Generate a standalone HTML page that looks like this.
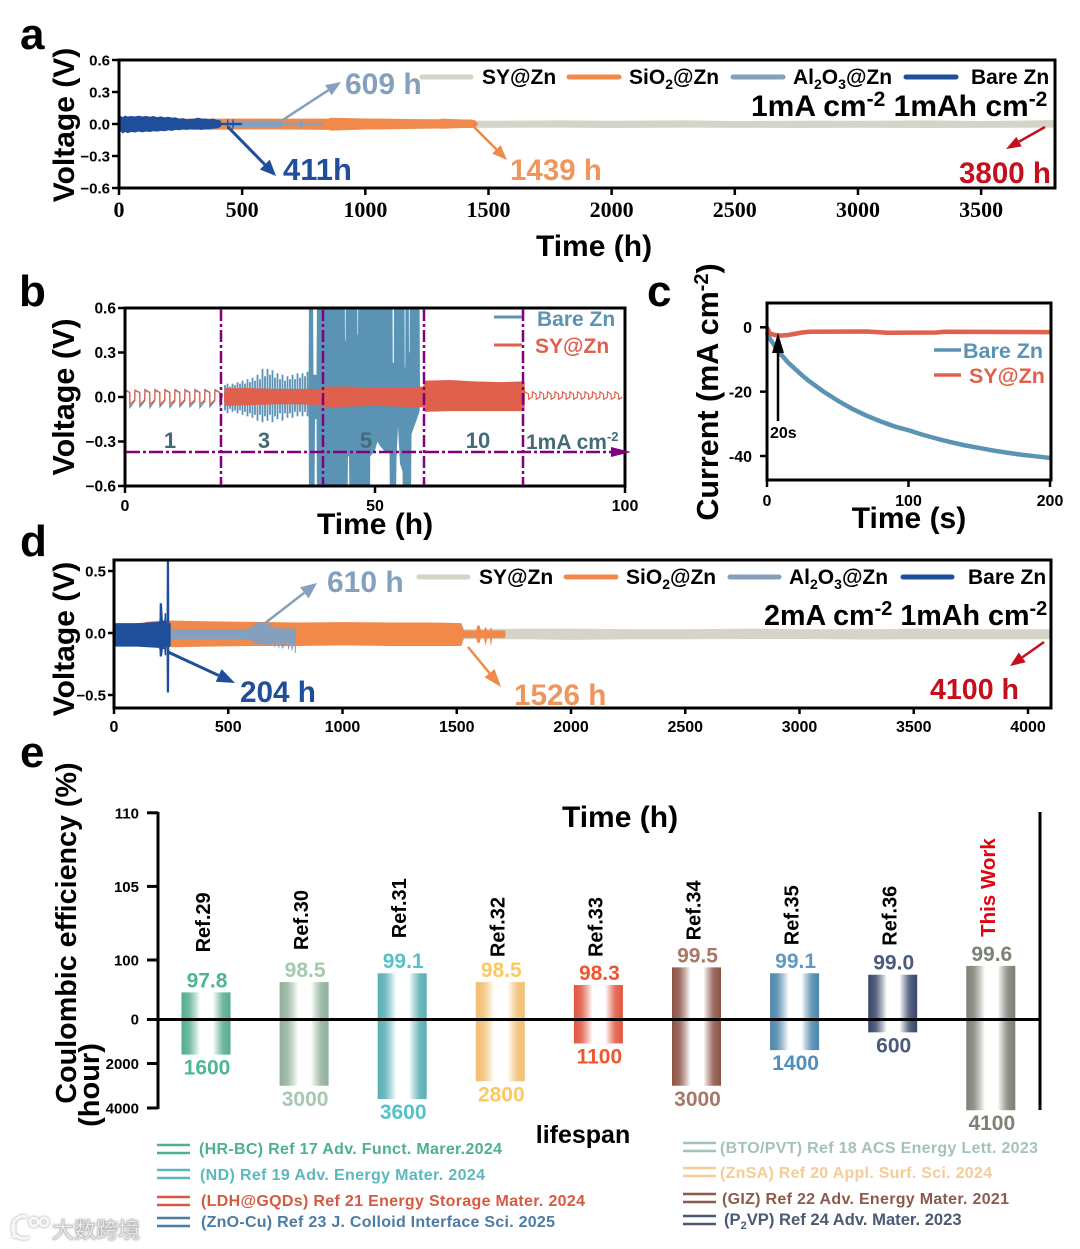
<!DOCTYPE html>
<html lang="en">
<head>
<meta charset="utf-8">
<title>Zinc anode cycling performance</title>
<style>
html,body{margin:0;padding:0;background:#fff;}
svg{display:block;font-family:"Liberation Sans","Noto Sans CJK SC",sans-serif;font-weight:bold;}
.ser{font-family:"Liberation Serif",serif;}
.lg{font-size:21px;fill:#000;}
</style>
</head>
<body>
<svg id="fig" xmlns="http://www.w3.org/2000/svg" width="1080" height="1249" viewBox="0 0 1080 1249">
<defs id="defs">
  <clipPath id="clipB"><rect x="125" y="308" width="500" height="178"/></clipPath>
  <clipPath id="clipD"><rect x="114" y="560" width="937" height="148"/></clipPath>
</defs>
<rect width="1080" height="1249" fill="#fff"/>

<g id="panelA"></g>
<g id="panelB"></g>
<g id="panelC"></g>
<g id="panelD"></g>
<g id="panelE"></g>

<!-- panel letters -->
<text x="20" y="49" font-size="44">a</text>
<text x="19" y="306" font-size="44">b</text>
<text x="647" y="306" font-size="44">c</text>
<text x="20" y="556" font-size="44">d</text>
<text x="20" y="767" font-size="44">e</text>

<!-- panel a static text -->
<text transform="translate(74,125) rotate(-90)" text-anchor="middle" font-size="30">Voltage (V)</text>
<text x="594" y="256" text-anchor="middle" font-size="30">Time (h)</text>
<g>
  <line x1="422" y1="77" x2="471" y2="77" stroke="#d5d4c6" stroke-width="5" stroke-linecap="round"/>
  <text x="482" y="84" class="lg">SY@Zn</text>
  <line x1="569" y1="77" x2="619" y2="77" stroke="#f0894a" stroke-width="5" stroke-linecap="round"/>
  <text x="629" y="84" class="lg">SiO<tspan dy="5" font-size="14">2</tspan><tspan dy="-5">@Zn</tspan></text>
  <line x1="733" y1="77" x2="783" y2="77" stroke="#84a0bd" stroke-width="5" stroke-linecap="round"/>
  <text x="793" y="84" class="lg">Al<tspan dy="5" font-size="14">2</tspan><tspan dy="-5">O</tspan><tspan dy="5" font-size="14">3</tspan><tspan dy="-5">@Zn</tspan></text>
  <line x1="906" y1="77" x2="956" y2="77" stroke="#1f4e9a" stroke-width="5" stroke-linecap="round"/>
  <text x="971" y="84" class="lg">Bare Zn</text>
</g>
<text x="751" y="116" font-size="30">1mA cm<tspan dy="-10" font-size="21">-2</tspan><tspan dy="10"> 1mAh cm</tspan><tspan dy="-10" font-size="21">-2</tspan></text>
<text x="345" y="94" font-size="30" fill="#84a0bd">609 h</text>
<text x="283" y="180" font-size="31" fill="#1f4e9a">411h</text>
<text x="510" y="180" font-size="29.5" fill="#f0965c">1439 h</text>
<text x="959" y="183" font-size="29.5" fill="#c4101c">3800 h</text>

<!-- panel b static text -->
<text transform="translate(74,397) rotate(-90)" text-anchor="middle" font-size="30.5">Voltage (V)</text>
<text x="375" y="534" text-anchor="middle" font-size="30">Time (h)</text>
<g>
  <line x1="494" y1="317" x2="522" y2="317" stroke="#5b93b5" stroke-width="3"/>
  <text x="537" y="326" font-size="21" fill="#5b93b5">Bare Zn</text>
  <line x1="494" y1="345" x2="522" y2="345" stroke="#e0604e" stroke-width="3"/>
  <text x="535" y="353" font-size="21" fill="#e0604e">SY@Zn</text>
</g>
<g font-size="22" fill="#456a7a" text-anchor="middle">
  <text x="170" y="448">1</text>
  <text x="264" y="448">3</text>
  <text x="366" y="448">5</text>
  <text x="478" y="448">10</text>
  <text x="526" y="449" text-anchor="start" font-size="21">1mA cm<tspan dy="-8" font-size="13">-2</tspan></text>
</g>

<!-- panel c static text -->
<text transform="translate(718,392) rotate(-90)" text-anchor="middle" font-size="30.5">Current (mA cm<tspan dy="-10" font-size="20">-2</tspan><tspan dy="10">)</tspan></text>
<text x="909" y="528" text-anchor="middle" font-size="30">Time (s)</text>
<g>
  <line x1="934" y1="350" x2="961" y2="350" stroke="#5b93b5" stroke-width="3.5"/>
  <text x="963" y="358" font-size="21.5" fill="#5b93b5">Bare Zn</text>
  <line x1="934" y1="375" x2="961" y2="375" stroke="#e0604e" stroke-width="3.5"/>
  <text x="969" y="383" font-size="21.5" fill="#e0604e">SY@Zn</text>
</g>
<text x="770" y="438" font-size="16">20s</text>

<!-- panel d static text -->
<text transform="translate(74,639) rotate(-90)" text-anchor="middle" font-size="30">Voltage (V)</text>
<g>
  <line x1="419" y1="577" x2="468" y2="577" stroke="#d5d4c6" stroke-width="5" stroke-linecap="round"/>
  <text x="479" y="584" class="lg">SY@Zn</text>
  <line x1="566" y1="577" x2="616" y2="577" stroke="#f0894a" stroke-width="5" stroke-linecap="round"/>
  <text x="626" y="584" class="lg">SiO<tspan dy="5" font-size="14">2</tspan><tspan dy="-5">@Zn</tspan></text>
  <line x1="730" y1="577" x2="779" y2="577" stroke="#84a0bd" stroke-width="5" stroke-linecap="round"/>
  <text x="789" y="584" class="lg">Al<tspan dy="5" font-size="14">2</tspan><tspan dy="-5">O</tspan><tspan dy="5" font-size="14">3</tspan><tspan dy="-5">@Zn</tspan></text>
  <line x1="903" y1="577" x2="952" y2="577" stroke="#1f4e9a" stroke-width="5" stroke-linecap="round"/>
  <text x="968" y="584" class="lg">Bare Zn</text>
</g>
<text x="764" y="625" font-size="28.7">2mA cm<tspan dy="-10" font-size="20">-2</tspan><tspan dy="10"> 1mAh cm</tspan><tspan dy="-10" font-size="20">-2</tspan></text>
<text x="327" y="592" font-size="30" fill="#84a0bd">610 h</text>
<text x="240" y="702" font-size="29.7" fill="#1f4e9a">204 h</text>
<text x="514" y="705" font-size="29.7" fill="#f0965c">1526 h</text>
<text x="930" y="699" font-size="28.6" fill="#c4101c">4100 h</text>

<!-- panel e static text -->
<text x="620" y="827" text-anchor="middle" font-size="30">Time (h)</text>
<text x="583" y="1143" text-anchor="middle" font-size="25">lifespan</text>
<text transform="translate(76,933) rotate(-90)" text-anchor="middle" font-size="28.7">Coulombic efficiency (%)</text>
<text transform="translate(99,1085) rotate(-90)" text-anchor="middle" font-size="29">(hour)</text>

<!-- watermark -->
<g style="filter:drop-shadow(0 0 1.2px #9a9a9a)">
  <g fill="none" stroke="#f6f6f6" stroke-width="3">
    <path d="M14 1220 L14 1238 M27 1217 A11 11 0 1 0 29 1237"/>
    <circle cx="34" cy="1222" r="4"/>
    <circle cx="44" cy="1222" r="4"/>
  </g>
  <text x="52" y="1238" font-size="22" fill="#f4f4f4" stroke="#c4c4c4" stroke-width="0.6" style="font-family:'Liberation Sans','Noto Sans CJK SC',sans-serif;font-weight:400">大数跨境</text>
</g>
</svg>

<script>
/* ---------- Panel a data (time h, envelope voltage V) ---------- */
const aXTicks = [0, 500, 1000, 1500, 2000, 2500, 3000, 3500];
const aYTicks = [0.6, 0.3, 0, -0.3, -0.6];
const aYTickLabels = ['0.6', '0.3', '0.0', '\u22120.3', '\u22120.6'];
const aSyTime = [0, 1500, 1800, 2000, 2300, 2500, 2800, 3000, 3300, 3500, 3800];
const aSyUpper = [0.028, 0.03, 0.034, 0.03, 0.034, 0.028, 0.032, 0.03, 0.034, 0.028, 0.036];
const aSyLower = [-0.035, -0.036, -0.034, -0.038, -0.034, -0.036, -0.038, -0.035, -0.037, -0.036, -0.034];
const aOrangeTime = [0, 200, 300, 600, 850, 860, 1000, 1200, 1300, 1310, 1400, 1430, 1445, 1456];
const aOrangeUpper = [0.04, 0.05, 0.05, 0.05, 0.05, 0.058, 0.052, 0.046, 0.044, 0.05, 0.042, 0.042, 0.035, 0.01];
const aOrangeLower = [-0.04, -0.05, -0.055, -0.05, -0.055, -0.062, -0.052, -0.046, -0.042, -0.045, -0.038, -0.038, -0.03, -0.01];
const aAlTime = [420, 456, 640, 660, 662, 735, 736, 745, 746, 826];
const aAlUpper = [0.012, 0.03, 0.032, 0.03, 0.012, 0.012, 0.035, 0.035, 0.012, 0.012];
const aAlLower = [-0.012, -0.03, -0.034, -0.03, -0.012, -0.012, -0.04, -0.04, -0.012, -0.012];
const aBareTime = [0,8,15,25,35,50,65,80,95,110,125,140,155,170,185,200,215,230,245,260,275,290,305,320,335,350,365,380,395,411,416,438,439,443,444,460,461,465,466,500];
const aBareUpper = [0.06,0.075,0.065,0.08,0.07,0.075,0.07,0.078,0.07,0.075,0.068,0.075,0.065,0.072,0.062,0.068,0.06,0.062,0.05,0.055,0.045,0.048,0.05,0.06,0.05,0.052,0.045,0.052,0.04,0.035,0.01,0.01,0.045,0.045,0.01,0.01,0.045,0.045,0.01,0.01];
const aBareLower = [-0.08,-0.07,-0.09,-0.075,-0.085,-0.075,-0.08,-0.07,-0.078,-0.07,-0.075,-0.068,-0.072,-0.065,-0.068,-0.06,-0.065,-0.055,-0.058,-0.05,-0.055,-0.048,-0.052,-0.05,-0.055,-0.048,-0.05,-0.045,-0.042,-0.03,-0.01,-0.01,-0.05,-0.05,-0.01,-0.01,-0.05,-0.05,-0.01,-0.01];

/* ---------- Panel b data ---------- */
const bXTicks = [0, 50, 100];
const bYTicks = [0.6, 0.3, 0, -0.3, -0.6];
const bYTickLabels = ['0.6', '0.3', '0.0', '\u22120.3', '\u22120.6'];
const bDividers = [19.2, 39.6, 59.8, 79.6];
const bSlowTime = [0,0.95,1,1.95,2,2.95,3,3.95,4,4.95,5,5.95,6,6.95,7,7.95,8,8.95,9,9.95,10,10.95,11,11.95,12,12.95,13,13.95,14,14.95,15,15.95,16,16.95,17,17.95,18,18.95,19,19.5];
const bBareSlowVolt = [0.05,0.03,-0.07,-0.025,0.045,0.03,-0.065,-0.025,0.05,0.03,-0.07,-0.025,0.05,0.03,-0.065,-0.025,0.05,0.03,-0.07,-0.03,0.05,0.03,-0.065,-0.025,0.05,0.03,-0.065,-0.03,0.05,0.03,-0.07,-0.03,0.05,0.03,-0.065,-0.025,0.05,0.03,-0.07,0.02];
const bSySlowVolt = [0.045,0.03,-0.05,-0.02,0.045,0.03,-0.05,-0.02,0.045,0.03,-0.05,-0.02,0.045,0.03,-0.05,-0.02,0.045,0.03,-0.05,-0.02,0.045,0.03,-0.05,-0.02,0.045,0.03,-0.05,-0.02,0.045,0.03,-0.05,-0.02,0.045,0.03,-0.05,-0.02,0.045,0.03,-0.05,0.02];
const bRampTime = [20,20.5,21,21.5,22,22.5,23,23.5,24,24.5,25,25.5,26,26.5,27,27.5,28,28.5,29,29.5,30,30.5,31,31.5,32,32.5,33,33.5,34,34.5,35,35.5,36,36.5,37];
const bRampUpper = [0.08,0.09,0.07,0.09,0.08,0.1,0.09,0.11,0.09,0.12,0.1,0.13,0.11,0.15,0.12,0.19,0.14,0.19,0.15,0.18,0.13,0.16,0.12,0.15,0.11,0.14,0.12,0.15,0.12,0.16,0.13,0.16,0.14,0.17,0.15];
const bRampLower = [-0.09,-0.11,-0.08,-0.1,-0.09,-0.11,-0.09,-0.12,-0.1,-0.13,-0.11,-0.14,-0.12,-0.16,-0.12,-0.17,-0.13,-0.16,-0.12,-0.17,-0.13,-0.15,-0.11,-0.16,-0.11,-0.14,-0.11,-0.14,-0.1,-0.13,-0.1,-0.13,-0.1,-0.13,-0.12];
const bBurstUpTime = [36.7,36.8,37.6,37.7,38.3,38.4,39.1,39.2,43.95,44,44.1,44.15,46.45,46.5,46.6,46.65,53.5,53.55,53.75,53.8,55.9,55.95,56.05,56.1,56.75,56.8,56.9,56.95,58.9,59];
const bBurstUpper = [0,0.7,0.7,0.15,0.15,0.7,0.7,0.7,0.7,0.38,0.38,0.7,0.7,0.42,0.42,0.7,0.7,0.23,0.23,0.7,0.7,0.2,0.2,0.7,0.7,0.3,0.3,0.7,0.7,0.06];
const bBurstLowTime = [36.7,36.8,37.9,38,38.3,38.4,39.1,39.2,44.5,44.6,44.8,44.9,49,49.05,50,50.5,51,52,52.9,53,54.2,54.3,54.6,55,55.5,55.6,57.2,57.3,58.9,59];
const bBurstLower = [0,-0.7,-0.7,-0.15,-0.15,-0.7,-0.7,-0.7,-0.7,-0.4,-0.4,-0.7,-0.7,-0.4,-0.36,-0.3,-0.33,-0.37,-0.38,-0.7,-0.7,-0.42,-0.2,-0.45,-0.5,-0.7,-0.7,-0.25,-0.1,-0.05];
const bSyBandTime = [19.8,20,25,30,35,39.5,39.7,45,50,55,59.4,59.6,60,65,70,75,79.9,80];
const bSyBandUpper = [0.02,0.06,0.06,0.055,0.055,0.055,0.07,0.07,0.065,0.065,0.07,0.07,0.11,0.115,0.105,0.1,0.105,0.03];
const bSyBandLower = [-0.02,-0.06,-0.055,-0.05,-0.05,-0.055,-0.07,-0.065,-0.06,-0.065,-0.07,-0.07,-0.1,-0.095,-0.095,-0.095,-0.095,-0.02];
const bEndTime = [80,80.7,80.75,81.45,81.5,82.2,82.25,82.95,83,83.7,83.75,84.45,84.5,85.2,85.25,85.95,86,86.7,86.75,87.45,87.5,88.2,88.25,88.95,89,89.7,89.75,90.45,90.5,91.2,91.25,91.95,92,92.7,92.75,93.45,93.5,94.2,94.25,94.95,95,95.7,95.75,96.45,96.5,97.2,97.25,97.95,98,98.7,98.75,99.45];
const bEndVolt = [0.035,0.02,-0.015,-0.002,0.035,0.02,-0.015,-0.002,0.035,0.02,-0.015,-0.002,0.035,0.02,-0.015,-0.002,0.035,0.02,-0.015,-0.002,0.035,0.02,-0.015,-0.002,0.035,0.02,-0.015,-0.002,0.035,0.02,-0.015,-0.002,0.035,0.02,-0.015,-0.002,0.035,0.02,-0.015,-0.002,0.035,0.02,-0.015,-0.002,0.035,0.02,-0.015,-0.002,0.035,0.02,-0.015,-0.002];

/* ---------- Panel c data ---------- */
const cXTicks = [0, 100, 200];
const cYTicks = [0, -20, -40];
const cBareTime = [0,2,5,10,15,20,25,30,40,50,60,70,80,90,100,110,120,130,140,150,160,170,180,190,200];
const cBareCurrent = [-1.5,-3.5,-5.5,-8.5,-11,-13,-15,-16.8,-20,-22.8,-25.3,-27.4,-29.2,-30.8,-32,-33.4,-34.6,-35.7,-36.7,-37.5,-38.3,-39,-39.6,-40.1,-40.6];
const cSyTime = [0, 2, 6, 10, 15, 20, 25, 30, 70, 85, 120, 125, 200];
const cSyCurrent = [0, -2, -2.4, -2.6, -2.4, -2, -1.6, -1.4, -1.3, -1.7, -1.6, -1.4, -1.5];

/* ---------- Panel d data ---------- */
const dXTicks = [0, 500, 1000, 1500, 2000, 2500, 3000, 3500, 4000];
const dYTicks = [0.5, 0, -0.5];
const dYTickLabels = ['0.5', '0.0', '\u22120.5'];
const dSyTime = [0, 1500, 1800, 2000, 2300, 2500, 2800, 3000, 3300, 3500, 3800, 4100];
const dSyUpper = [0.03, 0.03, 0.035, 0.035, 0.03, 0.03, 0.035, 0.03, 0.03, 0.035, 0.03, 0.03];
const dSyLower = [-0.05, -0.05, -0.05, -0.055, -0.05, -0.05, -0.048, -0.048, -0.052, -0.05, -0.05, -0.05];
const dOrangeTime = [0, 100, 140, 200, 260, 400, 600, 800, 1000, 1200, 1400, 1520, 1532, 1585, 1590, 1600, 1606, 1620, 1625, 1635, 1645, 1650, 1655, 1712, 1714];
const dOrangeUpper = [0.03, 0.06, 0.09, 0.1, 0.1, 0.095, 0.09, 0.085, 0.088, 0.085, 0.085, 0.08, 0.02, 0.02, 0.06, 0.06, 0.02, 0.02, 0.05, 0.02, 0.02, 0.05, 0.02, 0.02, 0];
const dOrangeLower = [-0.05, -0.09, -0.1, -0.11, -0.115, -0.11, -0.105, -0.105, -0.1, -0.105, -0.105, -0.105, -0.04, -0.04, -0.08, -0.08, -0.04, -0.04, -0.1, -0.04, -0.04, -0.11, -0.04, -0.04, 0];
const dAlTime = [248, 400, 560, 600, 627, 660, 690, 700, 702, 718, 720, 733, 735, 760, 762, 775, 777, 790, 792, 796];
const dAlUpper = [0.03, 0.03, 0.03, 0.04, 0.09, 0.08, 0.06, 0.04, 0.04, 0.03, 0.05, 0.03, 0.04, 0.03, 0.05, 0.03, 0.04, 0.03, 0.04, 0.04];
const dAlLower = [-0.05, -0.05, -0.05, -0.06, -0.09, -0.09, -0.1, -0.06, -0.12, -0.06, -0.13, -0.07, -0.13, -0.07, -0.14, -0.08, -0.15, -0.08, -0.16, -0.16];
const dBareTime = [0, 100, 195, 199, 200, 210, 214, 220, 222, 228, 229, 230, 231, 241, 242, 248];
const dBareUpper = [0.08, 0.08, 0.09, 0.1, 0.24, 0.24, 0.1, 0.1, 0.16, 0.16, 0.08, 0.08, 0.62, 0.62, 0.08, 0.08];
const dBareLower = [-0.11, -0.11, -0.12, -0.13, -0.19, -0.19, -0.13, -0.13, -0.18, -0.18, -0.11, -0.11, -0.48, -0.48, -0.11, -0.11];

/* ---------- Panel e data ---------- */
const eRefs = ['Ref.29', 'Ref.30', 'Ref.31', 'Ref.32', 'Ref.33', 'Ref.34', 'Ref.35', 'Ref.36', 'This Work'];
const eEfficiency = [97.8, 98.5, 99.1, 98.5, 98.3, 99.5, 99.1, 99.0, 99.6];
const eLifespan = [1600, 3000, 3600, 2800, 1100, 3000, 1400, 600, 4100];
const eUpperTicks = [100, 105, 110];
const eLowerTicks = [2000, 4000];

const eBarColors = ['#55ad8e', '#8fb09a', '#58afb5', '#f1bf70', '#e0563f', '#8b5344', '#4d86ad', '#37466a', '#7b8074'];
const eTopColors = ['#4fb596', '#a3c9ae', '#55c1c8', '#fbc863', '#f0552d', '#a97767', '#5f98c2', '#4a5a7c', '#7b8373'];
const eBottomColors = ['#4fb596', '#a7c8b0', '#55c1c8', '#fbc863', '#f0552d', '#a97767', '#4f8ebe', '#4a5a7c', '#7b8373'];
const eRefGaps = [40, 32, 35, 25, 28, 27, 28, 29, 29];

const eLegendLeft = ['(HR-BC) Ref 17 Adv. Funct. Marer.2024', '(ND) Ref 19 Adv. Energy Mater. 2024', '(LDH@GQDs) Ref 21 Energy Storage Mater. 2024', '(ZnO-Cu) Ref 23 J. Colloid Interface Sci. 2025'];
const eLegendRight = ['(BTO/PVT) Ref 18 ACS Energy Lett. 2023', '(ZnSA) Ref 20 Appl. Surf. Sci. 2024', '(GIZ) Ref 22 Adv. Energy Mater. 2021'];

/* ---------- helpers ---------- */
const NS = 'http://www.w3.org/2000/svg';
const COL = {sy:'#d5d4c6', orange:'#f0894a', al:'#84a0bd', bare:'#1f4e9a', bBlue:'#5b93b5', bRed:'#e0604e', purple:'#800080', red:'#c4101c'};

function mk(parent, tag, attrs, txt) {
  const n = document.createElementNS(NS, tag);
  for (const k in attrs) n.setAttribute(k, attrs[k]);
  if (txt !== undefined) n.textContent = txt;
  parent.appendChild(n);
  return n;
}

function bandPath(ts, ups, lows, xf, yf) {
  let d = '';
  for (let i = 0; i < ts.length; i++) d += (i ? 'L' : 'M') + xf(ts[i]).toFixed(2) + ' ' + yf(ups[i]).toFixed(2);
  for (let i = ts.length - 1; i >= 0; i--) d += 'L' + xf(ts[i]).toFixed(2) + ' ' + yf(lows[i]).toFixed(2);
  return d + 'Z';
}

function linePath(ts, vs, xf, yf) {
  let d = '';
  for (let i = 0; i < ts.length; i++) d += (i ? 'L' : 'M') + xf(ts[i]).toFixed(2) + ' ' + yf(vs[i]).toFixed(2);
  return d;
}

function drawFrame(g, x, y, w, h) {
  const f = mk(g, 'rect', {x: x, y: y, width: w, height: h, fill: 'none', stroke: '#000', 'stroke-width': 3});
  
  
}

function drawTicks(g, xVals, xLabels, xf, yBase, xLabelY, xFont, yVals, yLabels, yf, xBase, yFont, tickLen, xClass, yGap) {
  const gap = yGap === undefined ? 2 : yGap;
  xVals.forEach(function (v, i) {
    const t = mk(g, 'line', {x1: xf(v), x2: xf(v), y1: yBase, y2: yBase + tickLen, stroke: '#000', 'stroke-width': 2.5});
    
    
    const a = {x: xf(v), y: xLabelY, 'text-anchor': 'middle', 'font-size': xFont};
    if (xClass) a['class'] = xClass;
    const l = mk(g, 'text', a, xLabels[i]);
    
    
  });
  yVals.forEach(function (v, i) {
    const t = mk(g, 'line', {x1: xBase - tickLen, x2: xBase, y1: yf(v), y2: yf(v), stroke: '#000', 'stroke-width': 2.5});
    
    
    const l = mk(g, 'text', {x: xBase - tickLen - gap, y: yf(v) + yFont * 0.36, 'text-anchor': 'end', 'font-size': yFont}, yLabels[i]);
    
    
  });
}

function drawArrow(g, x1, y1, x2, y2, color, w, hl, hw) {
  const dx = x2 - x1, dy = y2 - y1, L = Math.hypot(dx, dy), ux = dx / L, uy = dy / L;
  const bx = x2 - ux * hl, by = y2 - uy * hl;
  const s = mk(g, 'line', {x1: x1, y1: y1, x2: bx, y2: by, stroke: color, 'stroke-width': w});
  
  
  const pts = [x2 + ',' + y2, (bx - uy * hw) + ',' + (by + ux * hw), (bx + uy * hw) + ',' + (by - ux * hw)].join(' ');
  const h = mk(g, 'polygon', {points: pts, fill: color});
  
  
}

/* ---------- Panel a ---------- */
(function () {
  const g = document.getElementById('panelA');
  const x = function (t) { return 119 + t * (1055 - 119) / 3800; };
  const y = function (v) { return 124 - v * (128 / 1.2); };
  const s1 = mk(g, 'path', {d: bandPath(aSyTime, aSyUpper, aSyLower, x, y), fill: COL.sy});
  
  
  const s2 = mk(g, 'path', {d: bandPath(aOrangeTime, aOrangeUpper, aOrangeLower, x, y), fill: COL.orange});
  
  
  const s3 = mk(g, 'path', {d: bandPath(aAlTime, aAlUpper, aAlLower, x, y), fill: COL.al});
  
  
  const s4 = mk(g, 'path', {d: bandPath(aBareTime, aBareUpper, aBareLower, x, y), fill: COL.bare});
  
  
  drawFrame(g, 119, 60, 936, 128);
  drawTicks(g, aXTicks, aXTicks.map(String), x, 189, 217, 22, aYTicks, aYTickLabels, y, 118, 15, 6, 'ser');
  drawArrow(g, 278, 123, 341, 82, COL.al, 2.5, 15, 6);
  drawArrow(g, 228, 127, 276, 176, COL.bare, 3, 16, 7);
  drawArrow(g, 473, 126, 507, 160, COL.orange, 2.5, 15, 6);
  drawArrow(g, 1045, 127, 1006, 149, COL.red, 2.5, 15, 5.5);
})();

/* ---------- Panel b ---------- */
(function () {
  const g = document.getElementById('panelB');
  const x = function (t) { return 125 + t * 5; };
  const y = function (v) { return 397 - v * (178 / 1.2); };
  const clip = mk(g, 'g', {'clip-path': 'url(#clipB)'});
  
  
  const l1 = mk(clip, 'path', {d: linePath(bSlowTime, bBareSlowVolt, x, y), fill: 'none', stroke: COL.bBlue, 'stroke-width': 1.3});
  
  
  bRampTime.forEach(function (t, i) {
    const r = mk(clip, 'line', {x1: x(t), x2: x(t), y1: y(bRampUpper[i]), y2: y(bRampLower[i]), stroke: COL.bBlue, 'stroke-width': 1.8});
    
    
  });
  const zerosA = bBurstUpTime.map(function () { return 0; });
  const b1 = mk(clip, 'path', {d: bandPath(bBurstUpTime, bBurstUpper, zerosA, x, y), fill: COL.bBlue});
  
  
  const zerosB = bBurstLowTime.map(function () { return 0; });
  const b2 = mk(clip, 'path', {d: bandPath(bBurstLowTime, zerosB, bBurstLower, x, y), fill: COL.bBlue});
  
  
  const l2 = mk(clip, 'path', {d: linePath(bSlowTime, bSySlowVolt, x, y), fill: 'none', stroke: COL.bRed, 'stroke-width': 1.3});
  
  
  const sb = mk(clip, 'path', {d: bandPath(bSyBandTime, bSyBandUpper, bSyBandLower, x, y), fill: COL.bRed});
  
  
  const l3 = mk(clip, 'path', {d: linePath(bEndTime, bEndVolt, x, y), fill: 'none', stroke: COL.bRed, 'stroke-width': 1.2});
  
  
  drawFrame(g, 125, 308, 500, 178);
  bDividers.forEach(function (h) {
    const d = mk(g, 'line', {x1: x(h), x2: x(h), y1: 309, y2: 485, stroke: COL.purple, 'stroke-width': 2.5, 'stroke-dasharray': '12 3 3 3'});
    
    
  });
  const hl = mk(g, 'line', {x1: 126, x2: 615, y1: 452, y2: 452, stroke: COL.purple, 'stroke-width': 2.5, 'stroke-dasharray': '14 3 3 3'});
  
  
  const hh = mk(g, 'polygon', {points: '631,452 611,447 611,457', fill: COL.purple});
  
  
  drawTicks(g, bXTicks, bXTicks.map(String), x, 487, 511, 16, bYTicks, bYTickLabels, y, 124, 15.5, 6);
})();

/* ---------- Panel c ---------- */
(function () {
  const g = document.getElementById('panelC');
  const x = function (t) { return 767 + t * (1050 - 767) / 200; };
  const y = function (v) { return 327.3 - v * ((456 - 327.3) / 40); };
  const b = mk(g, 'path', {d: linePath(cBareTime, cBareCurrent, x, y), fill: 'none', stroke: COL.bBlue, 'stroke-width': 4.5, 'stroke-linejoin': 'round'});
  
  
  const s = mk(g, 'path', {d: linePath(cSyTime, cSyCurrent, x, y), fill: 'none', stroke: COL.bRed, 'stroke-width': 4.5, 'stroke-linejoin': 'round'});
  
  
  drawFrame(g, 767, 303, 284, 177);
  drawTicks(g, cXTicks, cXTicks.map(String), x, 481, 506, 16, cYTicks, cYTicks.map(String), y, 766, 16, 6, undefined, 8);
  drawArrow(g, 778, 421, 778, 333, '#000', 2.5, 20, 6);
})();

/* ---------- Panel d ---------- */
(function () {
  const g = document.getElementById('panelD');
  const x = function (t) { return 114 + t * (1028 - 114) / 4000; };
  const y = function (v) { return 633 - v * 124; };
  const clip = mk(g, 'g', {'clip-path': 'url(#clipD)'});
  
  
  const s1 = mk(clip, 'path', {d: bandPath(dSyTime, dSyUpper, dSyLower, x, y), fill: COL.sy});
  
  
  const s2 = mk(clip, 'path', {d: bandPath(dOrangeTime, dOrangeUpper, dOrangeLower, x, y), fill: COL.orange});
  
  
  const s3 = mk(clip, 'path', {d: bandPath(dAlTime, dAlUpper, dAlLower, x, y), fill: COL.al});
  
  
  const s4 = mk(clip, 'path', {d: bandPath(dBareTime, dBareUpper, dBareLower, x, y), fill: COL.bare});
  
  
  drawFrame(g, 114, 560, 937, 148);
  drawTicks(g, dXTicks, dXTicks.map(String), x, 709, 732, 16, dYTicks, dYTickLabels, y, 113, 15, 5);
  drawArrow(g, 260, 627, 317, 583, COL.al, 2.5, 16, 7);
  drawArrow(g, 168, 652, 235, 683, COL.bare, 3, 18, 7);
  drawArrow(g, 468, 647, 501, 687, COL.orange, 2.5, 18, 6.5);
  drawArrow(g, 1044, 642, 1010, 666, COL.red, 2.5, 15, 6);
})();

/* ---------- Panel e ---------- */
(function () {
  const g = document.getElementById('panelE');
  const defs = document.getElementById('defs');
  const yUp = function (v) { return 960 + (100 - v) * 14.72; };
  const yDown = function (h) { return 1019 + h * (1108 - 1019) / 4000; };
  const xBar = function (i) { return 206 + i * 98.1; };
  const barW = 49;

  eRefs.forEach(function (name, i) {
    const gr = mk(defs, 'linearGradient', {id: 'barGrad' + i, x1: 0, x2: 1, y1: 0, y2: 0});
    mk(gr, 'stop', {offset: '0', 'stop-color': eBarColors[i]});
    mk(gr, 'stop', {offset: '0.15', 'stop-color': eBarColors[i], 'stop-opacity': 0.85});
    mk(gr, 'stop', {offset: '0.38', 'stop-color': '#ffffff'});
    mk(gr, 'stop', {offset: '0.64', 'stop-color': '#ffffff'});
    mk(gr, 'stop', {offset: '0.85', 'stop-color': eBarColors[i], 'stop-opacity': 0.85});
    mk(gr, 'stop', {offset: '1', 'stop-color': eBarColors[i]});
    const cx = xBar(i);
    const top = yUp(eEfficiency[i]);
    const bot = yDown(eLifespan[i]);
    const r = mk(g, 'rect', {x: cx - barW / 2, y: top, width: barW, height: bot - top, fill: 'url(#barGrad' + i + ')'});
    
    
    const tl = mk(g, 'text', {x: cx + 1, y: top - 5, 'text-anchor': 'middle', 'font-size': 21, fill: eTopColors[i]}, eEfficiency[i].toFixed(1));
    
    
    const bl = mk(g, 'text', {x: cx + 1, y: bot + 20, 'text-anchor': 'middle', 'font-size': 21, fill: eBottomColors[i]}, String(eLifespan[i]));
    
    
    const rl = mk(g, 'text', {transform: 'translate(' + (cx + 4) + ',' + (top - eRefGaps[i]) + ') rotate(-90)', 'font-size': i === 8 ? 20.5 : 20, fill: i === 8 ? '#e3000f' : '#000'}, name);
    
    
  });

  const axL = mk(g, 'line', {x1: 158, x2: 158, y1: 812, y2: 1109, stroke: '#000', 'stroke-width': 3});
  
  
  const axR = mk(g, 'line', {x1: 1040, x2: 1040, y1: 812, y2: 1110, stroke: '#000', 'stroke-width': 3});
  
  
  const axZ = mk(g, 'line', {x1: 147, x2: 1040, y1: 1019.5, y2: 1019.5, stroke: '#000', 'stroke-width': 3});
  
  

  const zl = mk(g, 'text', {x: 139, y: 1024.5, 'text-anchor': 'end', 'font-size': 15}, '0');
  
  

  eUpperTicks.forEach(function (v) {
    const t = mk(g, 'line', {x1: 147, x2: 158, y1: yUp(v), y2: yUp(v), stroke: '#000', 'stroke-width': 3});
    
    
    const l = mk(g, 'text', {x: 139, y: yUp(v) + 5.5, 'text-anchor': 'end', 'font-size': 15}, String(v));
    
    
  });
  eLowerTicks.forEach(function (v) {
    const t = mk(g, 'line', {x1: 147, x2: 158, y1: yDown(v), y2: yDown(v), stroke: '#000', 'stroke-width': 3});
    
    
    const l = mk(g, 'text', {x: 139, y: yDown(v) + 5.5, 'text-anchor': 'end', 'font-size': 15}, String(v));
    
    
  });

  /* legend */
  const leftX = [199, 200, 201, 201];
  const leftEnd = [502, 485, 585, 555];
  const leftBase = [1154, 1180, 1206, 1227];
  const leftY1 = [1145, 1170, 1197, 1218];
  const leftCol = ['#4db08f', '#5db8bc', '#d65a40', '#4c7ca4'];
  eLegendLeft.forEach(function (s, i) {
    [0, 8].forEach(function (off) {
      const ln = mk(g, 'line', {x1: 157, x2: 190, y1: leftY1[i] + off, y2: leftY1[i] + off, stroke: leftCol[i], 'stroke-width': 2.4});
      
      
    });
    const t = mk(g, 'text', {x: leftX[i], y: leftBase[i], 'font-size': 16, fill: leftCol[i], textLength: leftEnd[i] - leftX[i], lengthAdjust: 'spacing'}, s);
    
    
  });
  const rightX = [720, 720, 722];
  const rightEnd = [1038, 992, 1009];
  const rightBase = [1153, 1178, 1204];
  const rightY1 = [1143, 1168, 1194];
  const rightCol = ['#a3c4b2', '#f5cc96', '#8c5a4c'];
  eLegendRight.forEach(function (s, i) {
    [0, 8].forEach(function (off) {
      const ln = mk(g, 'line', {x1: 683, x2: 716, y1: rightY1[i] + off, y2: rightY1[i] + off, stroke: rightCol[i], 'stroke-width': 2.4});
      
      
    });
    const t = mk(g, 'text', {x: rightX[i], y: rightBase[i], 'font-size': 16, fill: rightCol[i], textLength: rightEnd[i] - rightX[i], lengthAdjust: 'spacing'}, s);
    
    
  });
  [0, 8].forEach(function (off) {
    const ln = mk(g, 'line', {x1: 683, x2: 716, y1: 1216 + off, y2: 1216 + off, stroke: '#4a5a74', 'stroke-width': 2.4});
    
    
  });
  const p2 = mk(g, 'text', {x: 724, y: 1225, 'font-size': 16.6, fill: '#4a5a74'});
  
  
  p2.innerHTML = '(P<tspan dy="4" font-size="11">2</tspan><tspan dy="-4">VP) Ref 24 Adv. Mater. 2023</tspan>';
})();
</script>
</body>
</html>
